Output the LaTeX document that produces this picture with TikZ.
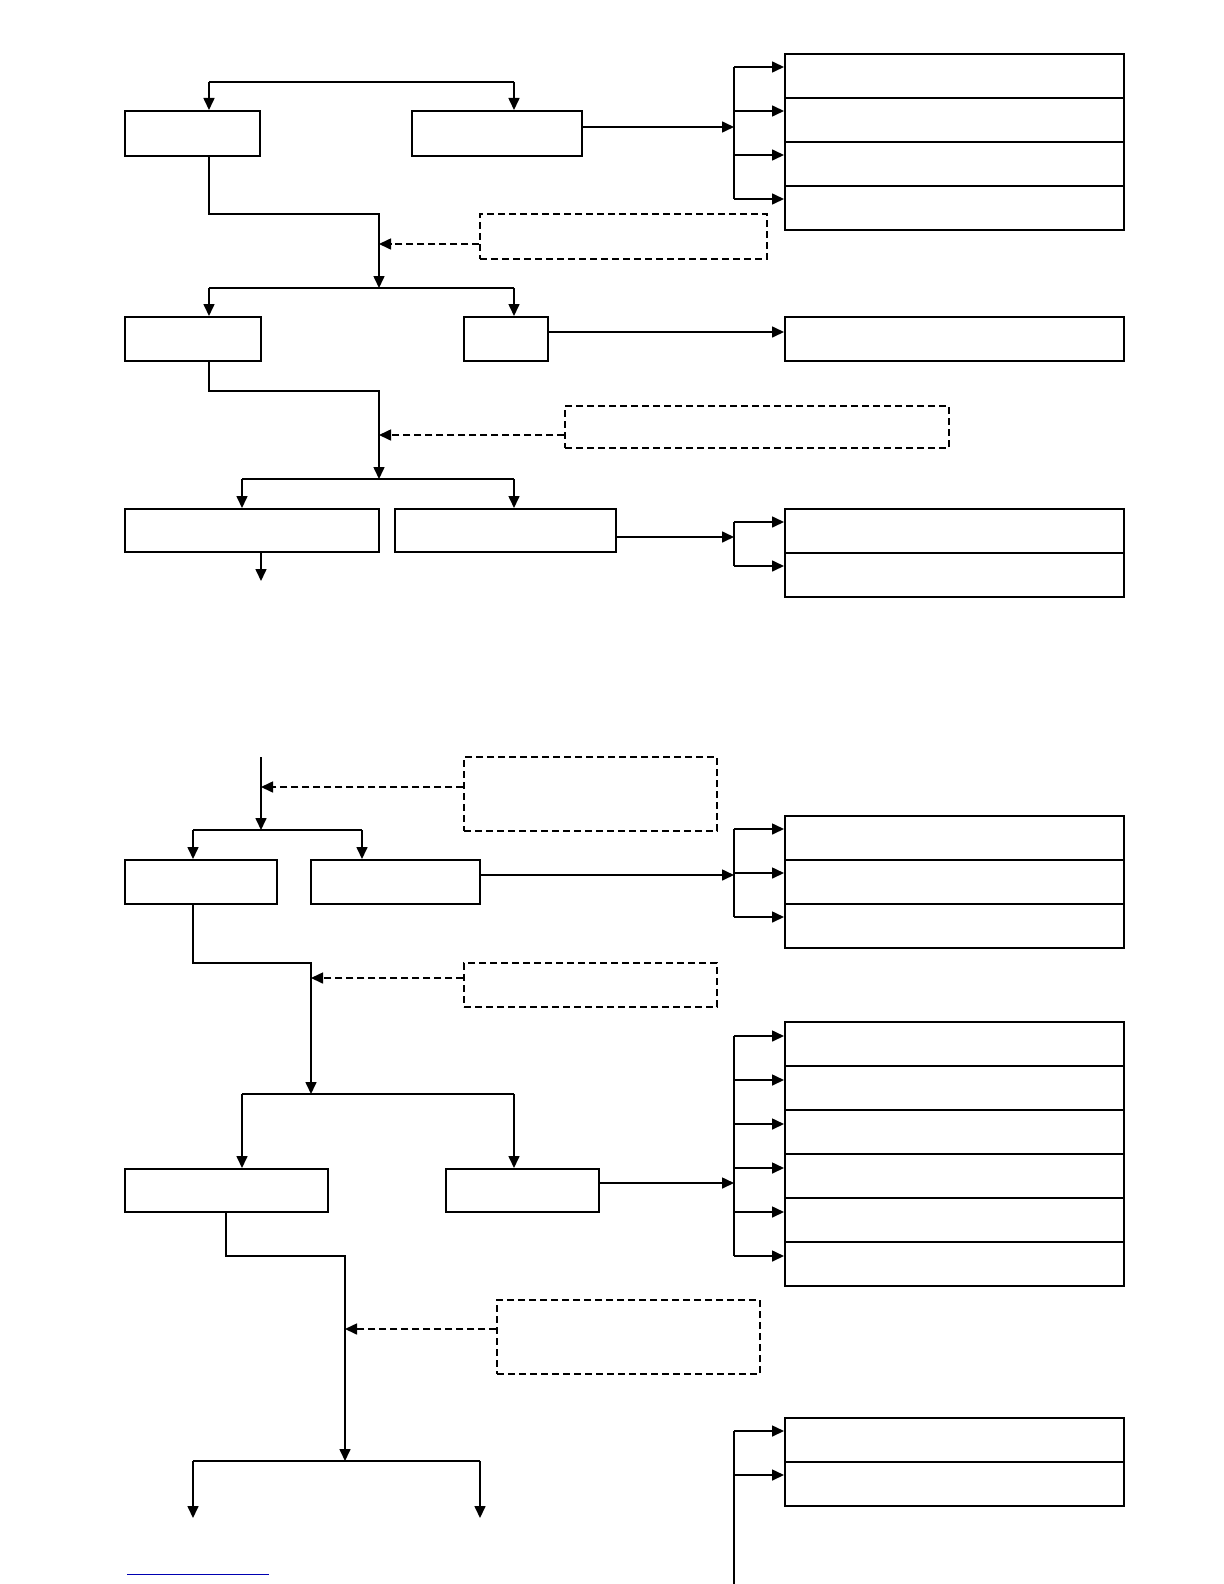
\documentclass[tikz,border=0pt]{standalone}
\usetikzlibrary{arrows.meta,fit,calc}
\tikzset{
  box/.style={draw, line width=1pt, inner sep=0pt},
  notebox/.style={draw, line width=0.75pt, inner sep=0pt, dash pattern=on 3.5pt off 2pt},
  link/.style={line width=0.8pt},
  arr/.style={link, -{Triangle[length=6pt,width=5.5pt]}},
  darr/.style={arr, dash pattern=on 3.5pt off 2pt}
}
\begin{document}
\begin{tikzpicture}[x=0.5pt, y=-0.5pt]
  \useasboundingbox (0,0) rectangle (1224,1584);

  % ---- stage 1 ----
  \coordinate (t0) at (209,82);
  \coordinate (t1) at (514,82);
  \node[box, fit={(125,111) (260,156)}] (a) {};
  \node[box, fit={(412,111) (582,156)}] (b) {};
  \draw[link] (t0) -- (t1);
  \draw[arr] (t0) -- (t0 |- a.north);
  \draw[arr] (t1) -- (t1 |- b.north);

  % list right of b
  \coordinate (spA) at (734,127);
  \foreach \i/\y in {1/54,2/98,3/142,4/186} {
    \node[box, fit={(785,\y) (1124,\y+44)}] (sa\i) {};
    \coordinate (ta\i) at ($(sa\i.north west)+(0,14)$);
    \draw[arr] (spA |- ta\i) -- (ta\i);
  }
  \draw[link] (spA |- ta1) -- (spA |- ta4);
  \draw[arr] (b.east |- spA) -- (spA);

  % merge into stage 2
  \coordinate (j1) at (379,214);
  \coordinate (k1) at (379,288);
  \draw[arr] (a.south -| t0) |- (j1) -- (k1);
  \node[notebox, fit={(480,214) (767,259)}] (n1) {};
  \coordinate (d1) at (379,244);
  \draw[darr] (n1.west |- d1) -- (d1);

  % ---- stage 2 ----
  \coordinate (u0) at (209,288);
  \coordinate (u1) at (514,288);
  \node[box, fit={(125,317) (261,361)}] (c) {};
  \node[box, fit={(464,317) (548,361)}] (d) {};
  \node[box, fit={(785,317) (1124,361)}] (e) {};
  \draw[link] (u0) -- (u1);
  \draw[arr] (u0) -- (u0 |- c.north);
  \draw[arr] (u1) -- (u1 |- d.north);
  \coordinate (m2) at (548,332);
  \draw[arr] (m2) -- (m2 -| e.west);

  \coordinate (j2) at (379,391);
  \coordinate (k2) at (379,479);
  \draw[arr] (c.south -| u0) |- (j2) -- (k2);
  \node[notebox, fit={(565,406) (949,448)}] (n2) {};
  \coordinate (d2) at (379,435);
  \draw[darr] (n2.west |- d2) -- (d2);

  % ---- stage 3 ----
  \coordinate (w0) at (242,479);
  \coordinate (w1) at (514,479);
  \node[box, fit={(125,509) (379,552)}] (f) {};
  \node[box, fit={(395,509) (616,552)}] (g) {};
  \draw[link] (w0) -- (w1);
  \draw[arr] (w0) -- (w0 |- f.north);
  \draw[arr] (w1) -- (w1 |- g.north);
  \coordinate (o1) at (261,581);
  \draw[arr] (f.south -| o1) -- (o1);

  \coordinate (spB) at (734,537);
  \foreach \i/\y in {1/509,2/553} {
    \node[box, fit={(785,\y) (1124,\y+44)}] (sb\i) {};
    \coordinate (tb\i) at ($(sb\i.north west)+(0,14)$);
    \draw[arr] (spB |- tb\i) -- (tb\i);
  }
  \draw[link] (spB |- tb1) -- (spB |- tb2);
  \draw[arr] (g.east |- spB) -- (spB);

  % ---- stage 4 ----
  \coordinate (v0) at (261,757);
  \coordinate (v1) at (261,830);
  \draw[arr] (v0) -- (v1);
  \node[notebox, fit={(464,757) (717,831)}] (n3) {};
  \coordinate (d3) at (261,787);
  \draw[darr] (n3.west |- d3) -- (d3);

  \coordinate (x0) at (193,830);
  \coordinate (x1) at (362,830);
  \node[box, fit={(125,860) (277,904)}] (h) {};
  \node[box, fit={(311,860) (480,904)}] (i) {};
  \draw[link] (x0) -- (x1);
  \draw[arr] (x0) -- (x0 |- h.north);
  \draw[arr] (x1) -- (x1 |- i.north);

  \coordinate (spC) at (734,875);
  \foreach \i/\y in {1/816,2/860,3/904} {
    \node[box, fit={(785,\y) (1124,\y+44)}] (sc\i) {};
    \coordinate (tc\i) at ($(sc\i.north west)+(0,14)$);
    \draw[arr] (spC |- tc\i) -- (tc\i);
  }
  \draw[link] (spC |- tc1) -- (spC |- tc3);
  \draw[arr] (i.east |- spC) -- (spC);

  \coordinate (j3) at (311,963);
  \coordinate (k3) at (311,1094);
  \draw[arr] (h.south -| x0) |- (j3) -- (k3);
  \node[notebox, fit={(464,963) (717,1007)}] (n4) {};
  \coordinate (d4) at (311,978);
  \draw[darr] (n4.west |- d4) -- (d4);

  % ---- stage 5 ----
  \coordinate (y0) at (242,1094);
  \coordinate (y1) at (514,1094);
  \node[box, fit={(125,1169) (328,1212)}] (j) {};
  \node[box, fit={(446,1169) (599,1212)}] (k) {};
  \draw[link] (y0) -- (y1);
  \draw[arr] (y0) -- (y0 |- j.north);
  \draw[arr] (y1) -- (y1 |- k.north);

  \coordinate (spD) at (734,1183);
  \foreach \i/\y in {1/1022,2/1066,3/1110,4/1154,5/1198,6/1242} {
    \node[box, fit={(785,\y) (1124,\y+44)}] (sd\i) {};
    \coordinate (td\i) at ($(sd\i.north west)+(0,15)$);
    \draw[arr] (spD |- td\i) -- (td\i);
  }
  \draw[link] (spD |- td1) -- (spD |- td6);
  \draw[arr] (k.east |- spD) -- (spD);

  \coordinate (j4) at (345,1256);
  \coordinate (k4) at (345,1461);
  \draw[arr] (j.south -| 226,0) |- (j4) -- (k4);
  \node[notebox, fit={(497,1300) (760,1374)}] (n5) {};
  \coordinate (d5) at (345,1329);
  \draw[darr] (n5.west |- d5) -- (d5);

  % ---- stage 6 ----
  \coordinate (z0) at (193,1461);
  \coordinate (z1) at (480,1461);
  \coordinate (e0) at (193,1518);
  \coordinate (e1) at (480,1518);
  \draw[link] (z0) -- (z1);
  \draw[arr] (z0) -- (e0);
  \draw[arr] (z1) -- (e1);

  \coordinate (spE) at (734,1584);
  \foreach \i/\y in {1/1418,2/1462} {
    \node[box, fit={(785,\y) (1124,\y+44)}] (se\i) {};
    \coordinate (te\i) at ($(se\i.north west)+(0,14)$);
    \draw[arr] (spE |- te\i) -- (te\i);
  }
  \draw[link] (spE |- te1) -- (spE);

  % underline at foot
  \draw[blue!70!black, line width=0.5pt] (127,1574) -- (269,1574);
\end{tikzpicture}
\end{document}
